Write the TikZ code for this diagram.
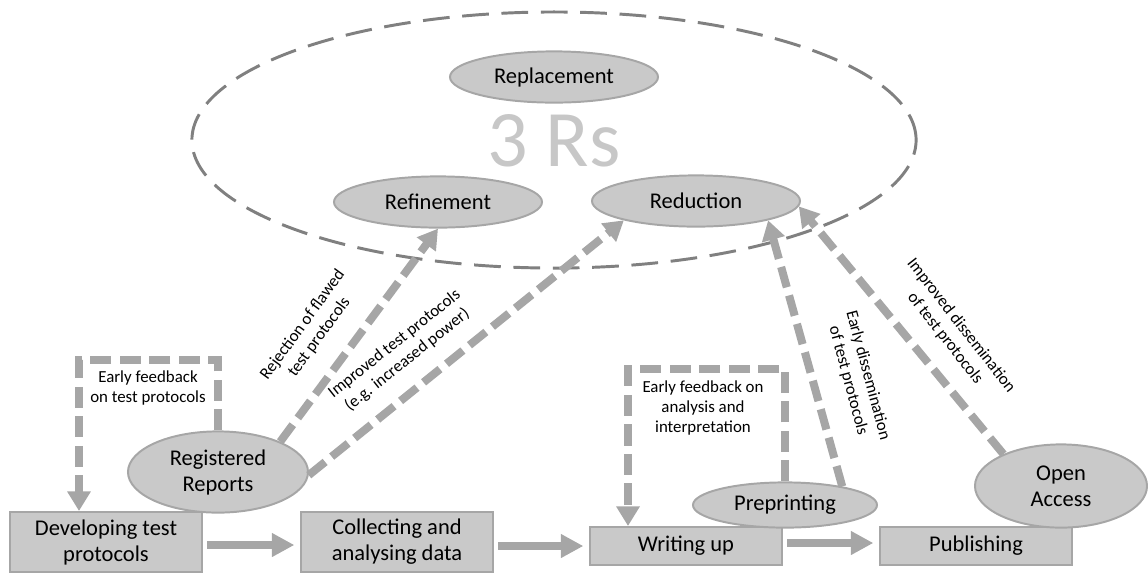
\documentclass[tikz,border=0pt]{standalone}
\usepackage{fontspec}
\setmainfont{Carlito}
\usetikzlibrary{shapes.geometric,arrows.meta}
\definecolor{boxfill}{HTML}{C9C9C9}
\definecolor{boxline}{HTML}{A6A6A6}
\definecolor{ringline}{HTML}{808080}

\begin{document}
\begin{tikzpicture}[x=.025cm,y=-.025cm,
  stage/.style={draw=boxline,line width=1.4pt,fill=boxfill,minimum width=4.8cm,minimum height=.95cm,
    align=center,inner sep=0pt,font=\fontsize{16}{18.5}\selectfont},
  topic/.style={ellipse,draw=boxline,line width=1.4pt,fill=boxfill,minimum width=5.2cm,minimum height=1.28cm,
    align=center,inner sep=0pt,font=\fontsize{16}{18.5}\selectfont},
  link/.style={draw=boxline,line width=5.7pt,dash pattern=on 15pt off 6pt,-{Triangle[length=14pt,width=16pt]}},
  feedback/.style={link},
  flow/.style={draw=boxline,line width=5.7pt,-{Triangle[length=16pt,width=16pt]}},
  note/.style={align=center,inner sep=0pt,font=\fontsize{12}{14.5}\selectfont},
  ring/.style={draw=ringline,line width=2.1pt,dash pattern=on 19pt off 9pt}]
\useasboundingbox (0,0) rectangle (1148,575);

% the 3 Rs
\draw[ring] (554,140) ellipse [x radius=9.05cm, y radius=3.2cm];
\node[text=black!22,font=\fontsize{57}{60}\selectfont] (rs) at (554,141) {3 Rs};
\node[topic] (repl) at (554,77) {Replacement};
\node[topic] (refi) at (438,202) {Refinement};
\node[topic] (redu) at (696,201) {Reduction};

% research stages
\node[stage,minimum height=1.5cm] (dev) at (106,542) {Developing test\\protocols};
\node[stage,minimum height=1.5cm] (col) at (397,542) {Collecting and\\analysing data};
\node[stage] (wri) at (686,546) {Writing up};
\node[stage] (pub) at (976,546) {Publishing};

\draw[flow,shorten <=3pt,shorten >=4pt] (dev.east |- 0,545) -- (col.west |- 0,545);
\draw[flow,shorten <=3pt,shorten >=4pt] (col.east |- wri.west) -- (wri.west);
\draw[flow,shorten <=3pt,shorten >=4pt] (wri.east |- 0,543) -- (pub.west |- 0,543);

% open science practices
\node[topic,minimum width=4.5cm,minimum height=2.03cm] (reg) at (218,472) {Registered\\Reports};
\node[topic,minimum width=4.6cm,minimum height=1.13cm] (pre) at (785,505) {Preprinting};
\node[topic,minimum width=4.3cm,minimum height=2.08cm] (oa) at (1061,486) {Open\\Access};

\coordinate (fbreg) at (79,360);
\draw[feedback] (reg.north) |- (fbreg) -- (fbreg |- dev.north);
\node[note] (fbregtxt) at (148,388) {Early feedback\\on test protocols};

\coordinate (fbpre) at (628,369);
\draw[feedback] (pre.north) |- (fbpre) -- (fbpre |- wri.north);
\node[note] (fbpretxt) at (703,408) {Early feedback on\\analysis and\\interpretation};

\draw[link] (reg.26) -- (refi.south);
\draw[link] (reg.-2) -- (redu.195);
\draw[link] (pre.18) -- (redu.-15);
\draw[link] (oa.151) -- (redu.-3);

\node[note,rotate=54] (rejtxt) at (311,331) {Rejection of flawed\\test protocols};
\node[note,rotate=38.5] (imptxt) at (401,352) {Improved test protocols\\(e.g. increased power)};
\node[note,rotate=-75] (earlytxt) at (858,378) {Early dissemination\\of test protocols};
\node[note,rotate=-52] (disstxt) at (953,332) {Improved dissemination\\of test protocols};
\end{tikzpicture}
\end{document}
